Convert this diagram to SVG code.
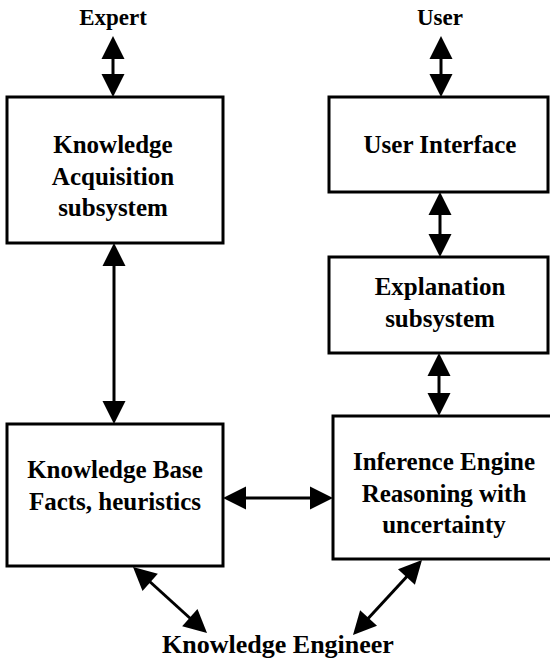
<svg xmlns="http://www.w3.org/2000/svg" xmlns:xlink="http://www.w3.org/1999/xlink" width="550" height="662" viewBox="0 0 550 662">
<style>
.box{fill:#fff;stroke:#000;stroke-width:3}
.t{font-family:"Liberation Serif","Times New Roman",serif;font-weight:bold;font-size:25px;fill:#000;text-anchor:middle}
.lbl{font-size:23px}
.ke{font-size:26px}
.ln{stroke:#000;stroke-width:3;fill:none}
</style>
<defs>
<path id="head" d="M0,0 L-23,-11.5 L-23,11.5 Z" fill="#000"/>
</defs>
<rect width="550" height="662" fill="#fff"/>
<g id="connectors">
<!-- Expert <-> KA -->
<line class="ln" x1="113" y1="56" x2="113" y2="77"/>
<use xlink:href="#head" transform="translate(113,36) rotate(-90)"/>
<use xlink:href="#head" transform="translate(113,97) rotate(90)"/>
<!-- User <-> UI -->
<line class="ln" x1="441" y1="56" x2="441" y2="77"/>
<use xlink:href="#head" transform="translate(441,36) rotate(-90)"/>
<use xlink:href="#head" transform="translate(441,97) rotate(90)"/>
<!-- UI <-> Explanation -->
<line class="ln" x1="440" y1="212" x2="440" y2="237"/>
<use xlink:href="#head" transform="translate(440,192) rotate(-90)"/>
<use xlink:href="#head" transform="translate(440,257) rotate(90)"/>
<!-- Explanation <-> IE -->
<line class="ln" x1="439" y1="373" x2="439" y2="396"/>
<use xlink:href="#head" transform="translate(439,353) rotate(-90)"/>
<use xlink:href="#head" transform="translate(439,416) rotate(90)"/>
<!-- KA <-> KB -->
<line class="ln" x1="114" y1="263" x2="114" y2="404"/>
<use xlink:href="#head" transform="translate(114,243) rotate(-90)"/>
<use xlink:href="#head" transform="translate(114,424) rotate(90)"/>
<!-- KB <-> IE -->
<line class="ln" x1="243" y1="498" x2="313" y2="498"/>
<use xlink:href="#head" transform="translate(223,498) rotate(180)"/>
<use xlink:href="#head" transform="translate(333,498)"/>
<!-- KB <-> Knowledge Engineer -->
<line class="ln" x1="148" y1="580" x2="192" y2="620"/>
<use xlink:href="#head" transform="translate(133,567) rotate(221.7)"/>
<use xlink:href="#head" transform="translate(207,633) rotate(41.7)"/>
<!-- IE <-> Knowledge Engineer -->
<line class="ln" x1="408.5" y1="574.7" x2="366.5" y2="620.3"/>
<use xlink:href="#head" transform="translate(422,560) rotate(-47.4)"/>
<use xlink:href="#head" transform="translate(353,635) rotate(132.6)"/>
</g>
<g id="expert"><text class="t lbl" x="113" y="25">Expert</text></g>
<g id="user"><text class="t lbl" x="440" y="25">User</text></g>
<g id="knowledge-acquisition">
<rect class="box" x="7" y="97" width="216" height="146"/>
<text class="t" x="113" y="153">Knowledge</text>
<text class="t" x="113" y="185">Acquisition</text>
<text class="t" x="113" y="216">subsystem</text>
</g>
<g id="user-interface">
<rect class="box" x="329" y="97" width="219" height="95"/>
<text class="t" x="440" y="153">User Interface</text>
</g>
<g id="explanation">
<rect class="box" x="329" y="257" width="219" height="96"/>
<text class="t" x="440" y="295">Explanation</text>
<text class="t" x="440" y="327">subsystem</text>
</g>
<g id="knowledge-base">
<rect class="box" x="7" y="424" width="216" height="142"/>
<text class="t" x="115" y="478">Knowledge Base</text>
<text class="t" x="115" y="510">Facts, heuristics</text>
</g>
<g id="inference-engine">
<rect class="box" x="333" y="416" width="222" height="143"/>
<text class="t" x="444" y="470">Inference Engine</text>
<text class="t" x="444" y="502">Reasoning with</text>
<text class="t" x="444" y="533">uncertainty</text>
</g>
<g id="knowledge-engineer"><text class="t ke" x="278" y="653">Knowledge Engineer</text></g>
</svg>
